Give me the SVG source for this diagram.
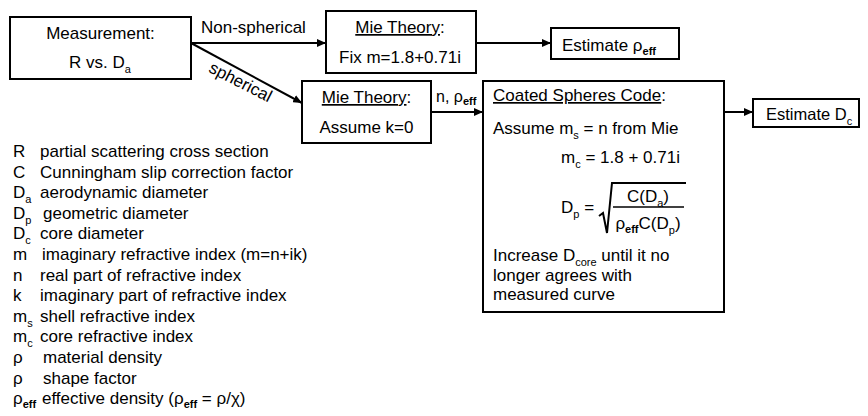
<svg xmlns="http://www.w3.org/2000/svg" width="868" height="416" viewBox="0 0 868 416">
<defs>
<style>
text{font-family:"Liberation Sans",Arial,sans-serif;fill:#000;}
.t{font-size:17px;}
.s{font-size:11px;}
.sb{font-size:11px;font-weight:bold;}
.lg{font-size:17px;}
.box{fill:#fff;stroke:#000;stroke-width:2;}
.ln{fill:none;stroke:#000;stroke-width:2;}
</style>
<marker id="ah" markerUnits="userSpaceOnUse" markerWidth="9" markerHeight="8" refX="9" refY="4" orient="auto">
<path d="M0,0 L9,4 L0,8 z" fill="#000"/>
</marker>
</defs>
<rect width="868" height="416" fill="#fff"/>

<g id="connectors">
<line class="ln" x1="191" y1="43" x2="326" y2="43" marker-end="url(#ah)"/>
<line class="ln" x1="191" y1="43" x2="302" y2="103" marker-end="url(#ah)"/>
<line class="ln" x1="476" y1="43" x2="551" y2="43" marker-end="url(#ah)"/>
<line class="ln" x1="431" y1="112" x2="483" y2="112" marker-end="url(#ah)"/>
<line class="ln" x1="724" y1="112" x2="753" y2="112" marker-end="url(#ah)"/>
<text class="t" x="201" y="33">Non-spherical</text>
<text class="t" x="238" y="87" text-anchor="middle" transform="rotate(27 238 87)">spherical</text>
<text x="436" y="102" style="font-size:16px">n, ρ<tspan class="sb" dy="3">eff</tspan></text>
</g>

<g id="measurement">
<rect class="box" x="10" y="17" width="181" height="62"/>
<text class="t" x="100.5" y="39" text-anchor="middle">Measurement:</text>
<text class="t" x="69" y="68">R vs. D<tspan class="s" dy="5">a</tspan></text>
</g>

<g id="mie-nonspherical">
<rect class="box" x="326" y="11" width="150" height="62"/>
<text class="t" x="400" y="33" text-anchor="middle"><tspan text-decoration="underline">Mie Theory</tspan>:</text>
<text class="t" x="400" y="63" text-anchor="middle">Fix m=1.8+0.71i</text>
</g>

<g id="estimate-rho">
<rect class="box" x="551" y="28" width="128" height="31"/>
<text class="t" x="562" y="51">Estimate ρ<tspan class="sb" dy="4">eff</tspan></text>
</g>

<g id="mie-spherical">
<rect class="box" x="302" y="81" width="129" height="62"/>
<text class="t" x="366.5" y="103" text-anchor="middle"><tspan text-decoration="underline">Mie Theory</tspan>:</text>
<text class="t" x="366.5" y="133" text-anchor="middle">Assume k=0</text>
</g>

<g id="coated-spheres">
<rect class="box" x="483" y="81" width="241" height="231"/>
<text class="t" x="493" y="101"><tspan text-decoration="underline">Coated Spheres Code</tspan>:</text>
<text class="t" x="493" y="134">Assume m<tspan class="s" dy="5">s</tspan><tspan dy="-5"> = n from Mie</tspan></text>
<text class="t" x="561" y="163">m<tspan class="s" dy="5">c</tspan><tspan dy="-5"> = 1.8 + 0.71i</tspan></text>
<text class="t" x="561" y="213">D<tspan class="s" dy="5">p</tspan><tspan dy="-5"> =</tspan></text>
<path class="ln" d="M599,216 L603,213 L607,233 L612,183 L686,183" stroke-width="1.5"/>
<line x1="613" y1="207" x2="684" y2="207" stroke="#000" stroke-width="1.5"/>
<text class="t" x="648" y="202" text-anchor="middle">C(D<tspan class="s" dy="5">a</tspan><tspan dy="-5">)</tspan></text>
<text class="t" x="648" y="229" text-anchor="middle">ρ<tspan class="sb" dy="4">eff</tspan><tspan dy="-4">C(D</tspan><tspan class="s" dy="5">p</tspan><tspan dy="-5">)</tspan></text>
<text class="t" x="493" y="261">Increase D<tspan class="s" dy="5">core</tspan><tspan dy="-5"> until it no</tspan></text>
<text class="t" x="493" y="281">longer agrees with</text>
<text class="t" x="493" y="300">measured curve</text>
</g>

<g id="estimate-dc">
<rect class="box" x="753" y="99" width="106" height="28"/>
<text x="766" y="120" style="font-size:16.5px">Estimate D<tspan class="s" dy="5">c</tspan></text>
</g>

<g id="legend">
<text class="lg" x="13" y="157">R</text><text class="lg" x="40" y="157">partial scattering cross section</text>
<text class="lg" x="13" y="178">C</text><text class="lg" x="40" y="178">Cunningham slip correction factor</text>
<text class="lg" x="13" y="198">D<tspan class="s" dy="5">a</tspan></text><text class="lg" x="40" y="198">aerodynamic diameter</text>
<text class="lg" x="13" y="219">D<tspan class="s" dy="5">p</tspan></text><text class="lg" x="43" y="219">geometric diameter</text>
<text class="lg" x="13" y="239">D<tspan class="s" dy="5">c</tspan></text><text class="lg" x="40" y="239">core diameter</text>
<text class="lg" x="13" y="260">m</text><text class="lg" x="42" y="260">imaginary refractive index (m=n+ik)</text>
<text class="lg" x="13" y="281">n</text><text class="lg" x="40" y="281">real part of refractive index</text>
<text class="lg" x="13" y="301">k</text><text class="lg" x="40" y="301">imaginary part of refractive index</text>
<text class="lg" x="13" y="322">m<tspan class="s" dy="5">s</tspan></text><text class="lg" x="40" y="322">shell refractive index</text>
<text class="lg" x="13" y="342">m<tspan class="s" dy="5">c</tspan></text><text class="lg" x="40" y="342">core refractive index</text>
<text class="lg" x="13" y="363">ρ</text><text class="lg" x="43" y="363">material density</text>
<text class="lg" x="13" y="384">ρ</text><text class="lg" x="43" y="384">shape factor</text>
<text class="lg" x="13" y="404">ρ<tspan class="sb" dy="4">eff</tspan></text><text class="lg" x="42" y="404">effective density (ρ<tspan class="sb" dy="4">eff</tspan><tspan dy="-4"> = ρ/χ)</tspan></text>
</g>
</svg>
